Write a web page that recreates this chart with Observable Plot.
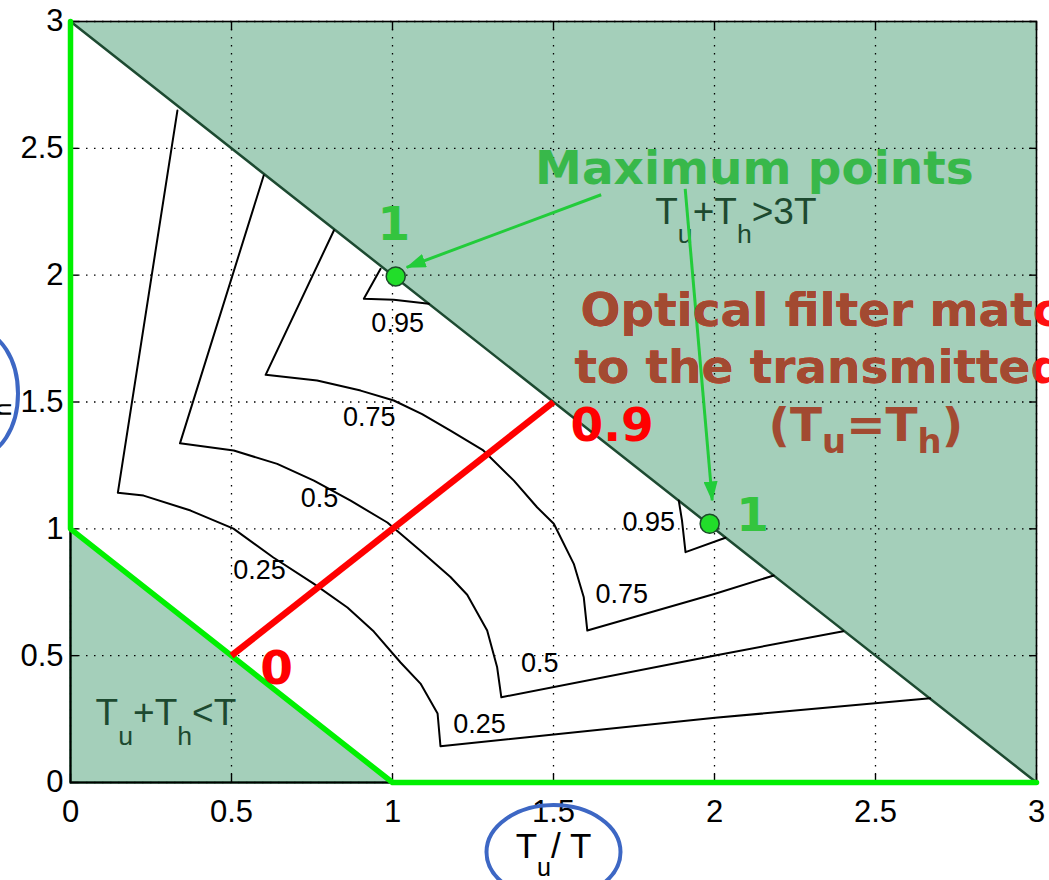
<!DOCTYPE html>
<html>
<head>
<meta charset="utf-8">
<script src="https://cdn.jsdelivr.net/npm/d3@7"></script>
<script src="https://cdn.jsdelivr.net/npm/@observablehq/plot@0.6"></script>
<style>
  body { margin: 0; background: #fff; overflow: hidden; }
  #chart svg { overflow: hidden; }
</style>
</head>
<body>
<div id="chart"></div>
<script>
// ---- data -------------------------------------------------------------
const tickValues = [0, 0.5, 1, 1.5, 2, 2.5, 3];

// forbidden regions: Tu+Th<T (lower-left) and Tu+Th>3T (upper-right)
const lowerRegion = [{x: 0, y: 1}, {x: 1, y: 0}];
const upperRegion = [{x: 0, lo: 3, hi: 3}, {x: 3, lo: 0, hi: 3}];
const lowerEdge = [[0, 0], [0, 1], [1, 0], [0, 0]];
const upperEdge = [[0, 3], [3, 0]];

// allowed domain boundary
const domainBoundary = [[0, 3], [0, 1], [1, 0], [3, 0]];

// contour levels (Tu/T, Th/T)
const level025 = [[0.332, 2.649], [0.147, 1.142], [0.227, 1.131], [0.373, 1.072], [0.506, 1.001], [0.630, 0.887], [0.755, 0.784], [0.860, 0.690], [0.942, 0.595], [1.025, 0.473], [1.087, 0.390], [1.140, 0.272], [1.149, 0.143], [2.002, 0.255], [2.670, 0.332]];
const level050 = [[0.600, 2.393], [0.340, 1.337], [0.507, 1.309], [0.642, 1.256], [0.756, 1.190], [0.870, 1.111], [0.984, 1.025], [1.087, 0.914], [1.180, 0.810], [1.232, 0.740], [1.294, 0.599], [1.325, 0.454], [1.338, 0.336], [2.002, 0.501], [2.400, 0.596]];
const level075 = [[0.818, 2.176], [0.606, 1.607], [0.766, 1.585], [0.901, 1.545], [1.004, 1.506], [1.092, 1.452], [1.180, 1.387], [1.282, 1.309], [1.377, 1.190], [1.449, 1.085], [1.501, 1.020], [1.563, 0.862], [1.594, 0.730], [1.605, 0.599], [2.002, 0.744], [2.184, 0.816]];
const level095a = [[0.963, 2.025], [0.911, 1.907], [1.004, 1.903], [1.113, 1.887]];
const level095b = [[1.889, 1.112], [1.899, 1.033], [1.910, 0.908], [2.034, 0.965]];

const contourLevels = [0.25, 0.5, 0.75, 0.95, 0.95];
const contourPaths = [level025, level050, level075, level095a, level095b];

// contour label anchors
const contourLabels = [
  {level: 0.95, x: 1.016, y: 1.809}, {level: 0.95, x: 1.796, y: 1.026},
  {level: 0.75, x: 0.928, y: 1.441}, {level: 0.75, x: 1.712, y: 0.741},
  {level: 0.5, x: 0.773, y: 1.119}, {level: 0.5, x: 1.457, y: 0.469},
  {level: 0.25, x: 0.587, y: 0.836}, {level: 0.25, x: 1.270, y: 0.229}
];

// maxima on the Tu+Th=3T boundary
const maxPoints = [{x: 1.01, y: 1.995, value: 1}, {x: 1.985, y: 1.02, value: 1}];

// matched-filter path Tu=Th
const filterPath = [{x: 0.5, y: 0.5, value: 0}, {x: 1.5, y: 1.5, value: 0.9}];

// annotation arrows from the "Maximum points" note
const arrowLinks = [
  {x1: 1.648, y1: 2.317, x2: 1.044, y2: 2.031},
  {x1: 1.909, y1: 2.340, x2: 1.993, y2: 1.112}
];

const regionLabels = [
  {x: 1.816, y: 2.202, text: "T_u+T_h>3T"},
  {x: 0.078, y: 0.225, text: "T_u+T_h<T"}
];
const maxNote = [{x: 2.124, y: 2.361, text: "Maximum points"}];
const filterNote = [
  {x: 1.584, y: 1.801, text: "Optical filter matched"},
  {x: 1.565, y: 1.573, text: "to the transmitted signal"}
];
const filterEq = [{x: 2.470, y: 1.348, text: "(T_u=T_h)"}];

// ---- styling ----------------------------------------------------------
const shade = "#a4cfba";
const shadeEdge = "#1d4a31";
const sans = "Liberation Sans, Arial, Helvetica, sans-serif";
const bold = "DejaVu Sans, Verdana, sans-serif";
const noteGreen = "#38b84a";
const arrowGreen = "#22cc3a";
const noteBrown = "#a24a31";
const ringBlue = "#3d67c4";
const tickFmt = (d) => String(d);

const contourRows = contourPaths.flatMap((path, id) =>
  path.map(([x, y]) => ({id, level: contourLevels[id], x, y})));
const toRows = (pts) => pts.map(([x, y]) => ({x, y}));

// ellipses drawn around the two axis titles
function axisRings(index, {x, y}, values, {height, marginLeft}) {
  const g = d3.create("svg:g").attr("fill", "none").attr("stroke", ringBlue).attr("stroke-width", 4);
  g.append("ellipse").attr("cx", x(1.5) + 0.5).attr("cy", height - 28).attr("rx", 67).attr("ry", 47);
  g.append("ellipse").attr("cx", marginLeft - 92).attr("cy", y(1.5) - 8).attr("rx", 40).attr("ry", 62);
  return g.node();
}

const plot = Plot.plot({
  width: 1049,
  height: 880,
  marginLeft: 70,
  marginRight: 13,
  marginTop: 21,
  marginBottom: 98,
  x: {domain: [0, 3], label: null},
  y: {domain: [0, 3], label: null},
  style: {background: "#fff"},
  marks: [
    // shaded forbidden regions
    Plot.areaY(lowerRegion, {x: "x", y: "y", fill: shade}),
    Plot.areaY(upperRegion, {x: "x", y1: "lo", y2: "hi", fill: shade}),
    // dotted grid
    Plot.gridX({ticks: tickValues, stroke: "#000", strokeOpacity: 1, strokeWidth: 1.3, strokeDasharray: "1.5,6.5"}),
    Plot.gridY({ticks: tickValues, stroke: "#000", strokeOpacity: 1, strokeWidth: 1.3, strokeDasharray: "1.5,6.5"}),
    // region edges
    Plot.line(toRows(lowerEdge), {x: "x", y: "y", stroke: shadeEdge, strokeWidth: 2.5}),
    Plot.line(toRows(upperEdge), {x: "x", y: "y", stroke: shadeEdge, strokeWidth: 2.5}),
    // contours
    Plot.line(contourRows, {x: "x", y: "y", z: "id", stroke: "#000", strokeWidth: 2}),
    Plot.text(contourLabels, {x: "x", y: "y", text: (d) => String(d.level), fontSize: 27, fontFamily: sans, fill: "#000"}),
    // frame and inward ticks
    Plot.frame({stroke: "#000", strokeWidth: 1.6}),
    Plot.axisX({anchor: "bottom", ticks: tickValues, tickSize: 8, dy: -8, tickFormat: () => "", label: null, strokeWidth: 1.4}),
    Plot.axisX({anchor: "top", ticks: tickValues, tickSize: 8, dy: 8, tickFormat: () => "", label: null, strokeWidth: 1.4}),
    Plot.axisY({anchor: "left", ticks: tickValues, tickSize: 8, dx: 8, tickFormat: () => "", label: null, strokeWidth: 1.4}),
    Plot.axisY({anchor: "right", ticks: tickValues, tickSize: 8, dx: -8, tickFormat: () => "", label: null, strokeWidth: 1.4}),
    // tick labels
    Plot.axisX({anchor: "bottom", ticks: tickValues, tickFormat: tickFmt, tickSize: 0, tickPadding: 17, fontSize: 31, fontFamily: sans, label: null, fill: "#000"}),
    Plot.axisY({anchor: "left", ticks: tickValues, tickFormat: tickFmt, tickSize: 0, tickPadding: 7, fontSize: 31, fontFamily: sans, label: null, fill: "#000"}),
    // axis titles
    Plot.text(["T_u/ T"], {frameAnchor: "bottom", text: (d) => d, dy: 75, lineAnchor: "bottom", fontSize: 35, fontFamily: sans, fill: "#000"}),
    Plot.text(["T_h/ T"], {frameAnchor: "left", text: (d) => d, rotate: -90, dx: -78, dy: 36, lineAnchor: "bottom", fontSize: 35, fontFamily: sans, fill: "#000"}),
    // boundary of the allowed domain
    Plot.line(toRows(domainBoundary), {x: "x", y: "y", stroke: "#00f000", strokeWidth: 5.5}),
    // Tu=Th path
    Plot.line(filterPath, {x: "x", y: "y", stroke: "#ff0000", strokeWidth: 6.5, strokeLinecap: "butt"}),
    // region labels
    Plot.text(regionLabels, {x: "x", y: "y", text: "text", textAnchor: "start", lineAnchor: "bottom", fontSize: 37, fontFamily: sans, fill: "#1d4a30"}),
    // arrows
    Plot.link(arrowLinks, {x1: "x1", y1: "y1", x2: "x2", y2: "y2", stroke: arrowGreen, strokeWidth: 3}),
    // maxima
    Plot.dot(maxPoints, {x: "x", y: "y", r: 9.5, fill: "#22dd2a", stroke: "#1c4a2a", strokeWidth: 1.5}),
    Plot.text([maxPoints[0]], {x: "x", y: "y", text: (d) => String(d.value), dx: -2, dy: -36, lineAnchor: "bottom", fontSize: 47, fontWeight: "bold", fontFamily: bold, fill: "#34c43f"}),
    Plot.text([maxPoints[1]], {x: "x", y: "y", text: (d) => String(d.value), dx: 43, dy: 7, lineAnchor: "bottom", fontSize: 47, fontWeight: "bold", fontFamily: bold, fill: "#34c43f"}),
    // values along the Tu=Th path
    Plot.text([filterPath[0]], {x: "x", y: "y", text: (d) => String(d.value), dx: 45, dy: 28, lineAnchor: "bottom", fontSize: 47, fontWeight: "bold", fontFamily: bold, fill: "#ff0000"}),
    Plot.text([filterPath[1]], {x: "x", y: "y", text: (d) => String(d.value), dx: 17, dy: 38.5, textAnchor: "start", lineAnchor: "bottom", fontSize: 47, fontWeight: "bold", fontFamily: bold, fill: "#ff0000"}),
    // notes
    Plot.text(maxNote, {x: "x", y: "y", text: "text", lineAnchor: "bottom", fontSize: 47, fontWeight: "bold", fontFamily: bold, fill: noteGreen}),
    Plot.text(filterNote, {x: "x", y: "y", text: "text", textAnchor: "start", lineAnchor: "bottom", fontSize: 47, fontWeight: "bold", fontFamily: bold, fill: "#ff1010"}),
    Plot.text(filterNote, {x: "x", y: "y", text: "text", textAnchor: "start", lineAnchor: "bottom", fontSize: 47, fontWeight: "bold", fontFamily: bold, fill: noteBrown, clip: true}),
    Plot.text(filterEq, {x: "x", y: "y", text: "text", lineAnchor: "bottom", fontSize: 47, fontWeight: "bold", fontFamily: bold, fill: noteBrown}),
    axisRings
  ]
});

document.getElementById("chart").append(plot);

// filled arrowheads on the note arrows
const svg = d3.select(plot.tagName.toLowerCase() === "svg" ? plot : plot.querySelector("svg"));
const marker = svg.insert("defs", ":first-child").append("marker")
  .attr("id", "note-head").attr("viewBox", "0 0 20 14")
  .attr("markerWidth", 20).attr("markerHeight", 14)
  .attr("markerUnits", "userSpaceOnUse")
  .attr("refX", 19).attr("refY", 7).attr("orient", "auto");
marker.append("path").attr("d", "M0,0L20,7L0,14Z").attr("fill", arrowGreen);
svg.selectAll('g[aria-label="link"] path').attr("marker-end", "url(#note-head)");

// subscripts written as "_x" in label strings
svg.selectAll("text").each(function () {
  const s = this.textContent;
  if (!s.includes("_")) return;
  const cs = getComputedStyle(this);
  const fs = parseFloat(cs.fontSize);
  const heavy = parseInt(cs.fontWeight) >= 600;
  const drop = (heavy ? 0.26 : 0.52) * fs;
  const subSize = 0.72 * fs;
  const parts = s.split(/_(.)/);
  this.textContent = "";
  let offset = 0;
  parts.forEach((part, i) => {
    if (!part) return;
    const isSub = i % 2 === 1;
    const target = isSub ? drop : 0;
    const ts = document.createElementNS("http://www.w3.org/2000/svg", "tspan");
    ts.setAttribute("dy", target - offset);
    if (isSub) ts.setAttribute("font-size", subSize);
    ts.textContent = part;
    this.appendChild(ts);
    offset = target;
  });
});
</script>
</body>
</html>
